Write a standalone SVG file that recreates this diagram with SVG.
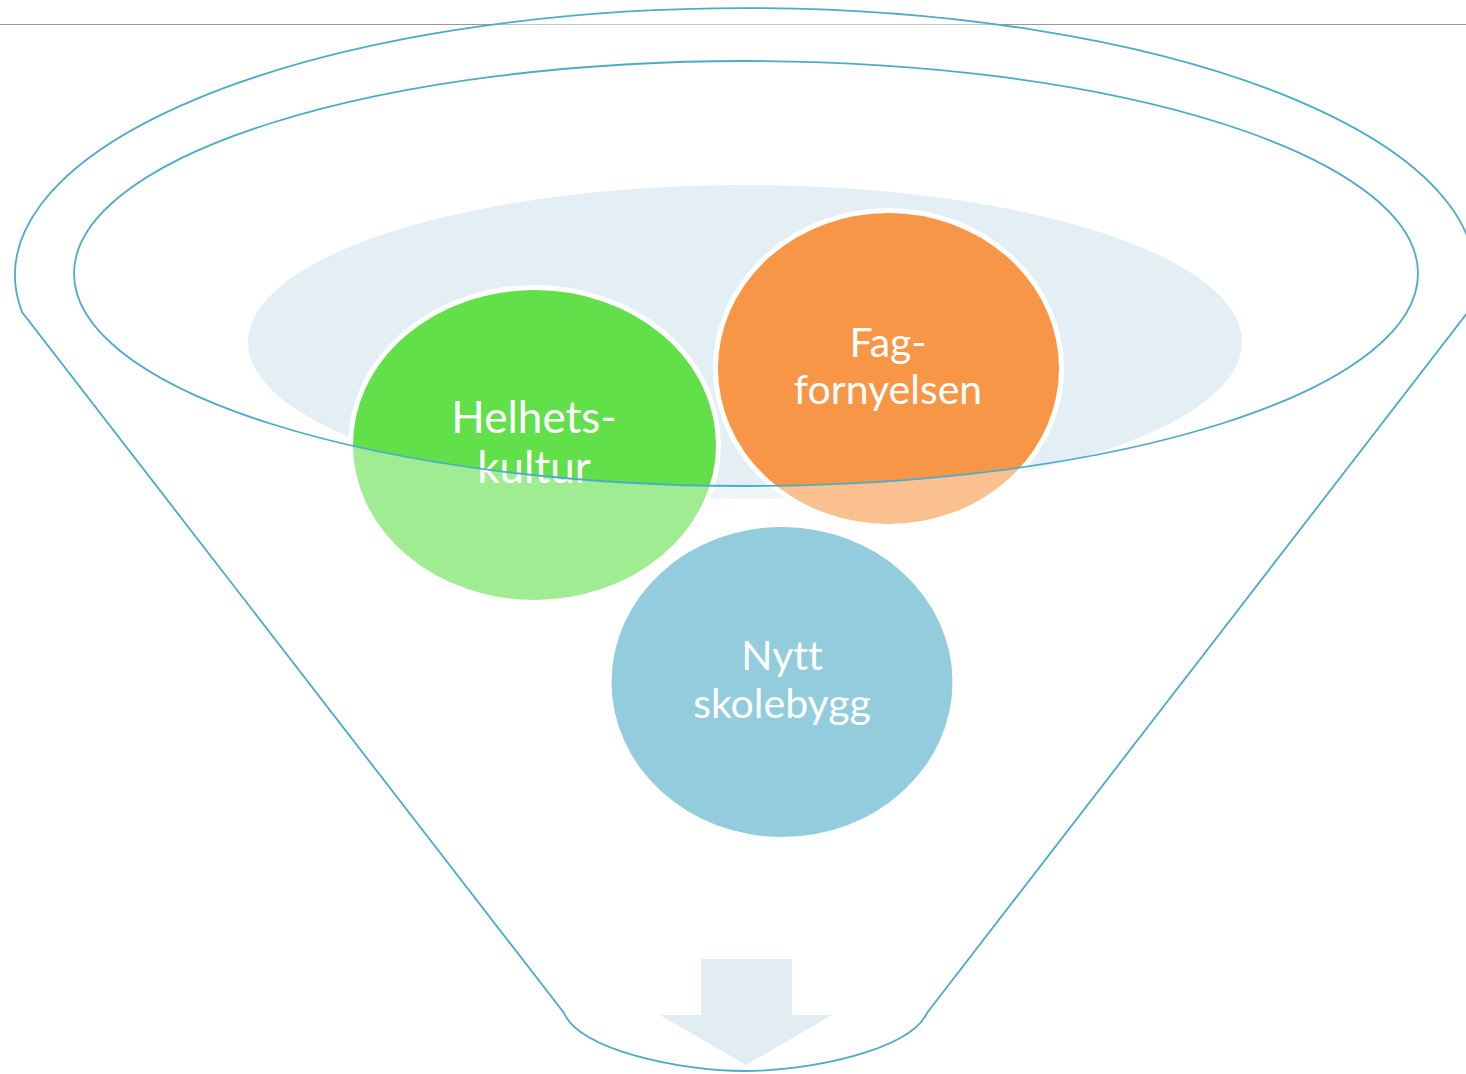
<svg xmlns="http://www.w3.org/2000/svg" width="1466" height="1074" viewBox="0 0 1466 1074">
  <style>
    .funnel { fill: none; stroke: #4BACC6; stroke-width: 1.8; }
    .veil { fill: #FFFFFF; fill-opacity: 0.4; fill-rule: evenodd; stroke: none; }
    .bubble { stroke: #FFFFFF; stroke-width: 5; }
    .label { font-family: Lato, "Open Sans", sans-serif; fill: #FFFFFF; text-anchor: middle; font-variant-ligatures: none; }
  </style>
  <rect x="0" y="0" width="1466" height="1074" fill="#FFFFFF"/>
  <line x1="0" y1="24.5" x2="1466" y2="24.5" stroke="#999999" stroke-width="1.2"/>

  <g id="background">
    <ellipse cx="745" cy="342" rx="497" ry="157" fill="#E3EFF4"/>
  </g>

  <g id="node-helhetskultur">
    <ellipse class="bubble" cx="534.5" cy="445" rx="184" ry="157.5" fill="#62E04A"/>
    <text class="label" x="534" y="433" font-size="44">Helhets-</text>
    <text class="label" x="534" y="483" font-size="44">kultur</text>
  </g>

  <g id="node-fagfornyelsen">
    <ellipse class="bubble" cx="888.5" cy="368.5" rx="173" ry="158" fill="#F79646"/>
    <text class="label" x="888" y="357" font-size="41">Fag-</text>
    <text class="label" x="888" y="404" font-size="41">fornyelsen</text>
  </g>

  <g id="connectors">
    <path class="veil" d="M22,312 A730,267 0 1,1 1468,312 L927,1013 C910,1050 810,1071 745,1071 C680,1071 580,1050 564,1013 Z M74,273 A672,212.5 0 1,0 1418,273 A672,212.5 0 1,0 74,273 Z"/>
    <path id="arrow" d="M701,959 H792 V1015 H832 L746,1065 L660,1015 H701 Z" fill="#E1EDF2"/>
    <path class="funnel" d="M22,312 A730,267 0 1,1 1468,312 L927,1013 C910,1050 810,1071 745,1071 C680,1071 580,1050 564,1013 Z"/>
    <ellipse class="funnel" cx="746" cy="273.5" rx="672" ry="212.5"/>
  </g>

  <g id="node-nytt-skolebygg">
    <ellipse cx="782" cy="682" rx="170.5" ry="155" fill="#93CDDD"/>
    <text class="label" x="782" y="670" font-size="41">Nytt</text>
    <text class="label" x="782" y="718" font-size="41">skolebygg</text>
  </g>
</svg>
